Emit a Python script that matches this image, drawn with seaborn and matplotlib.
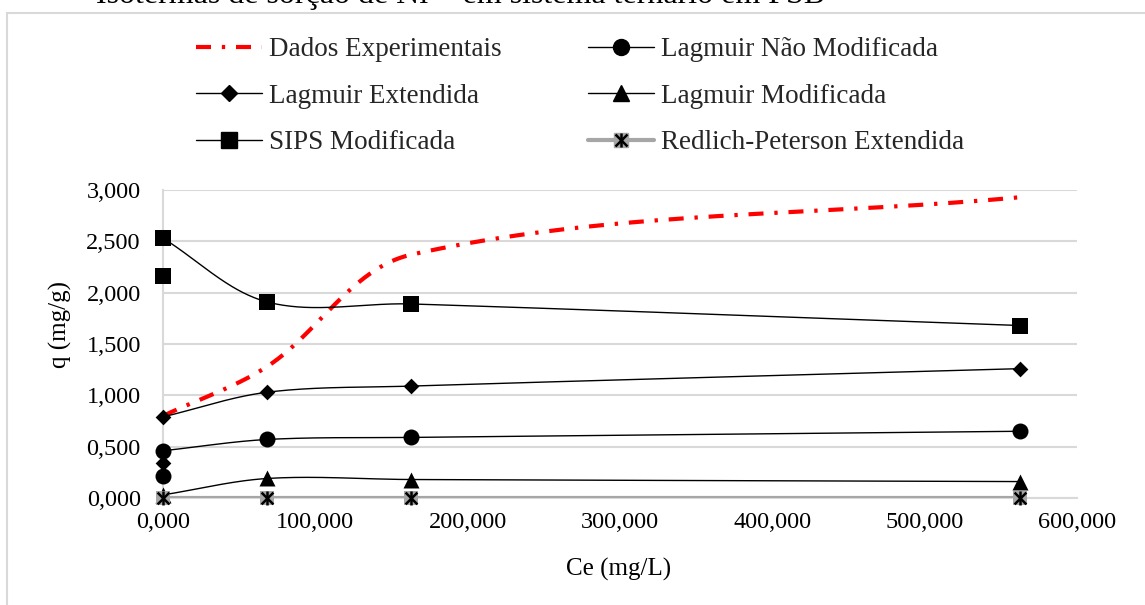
import numpy as np
import pandas as pd
import matplotlib
matplotlib.use("Agg")
import matplotlib.pyplot as plt
import seaborn as sns
from matplotlib.lines import Line2D
from matplotlib.legend_handler import HandlerTuple
from matplotlib.patches import Rectangle
from matplotlib.ticker import FuncFormatter, MultipleLocator

# ---- data -------------------------------------------------------------
ce = [0.0, 68.3, 162.9, 562.8]                 # Ce (mg/L)
q_exp = [0.80, 1.28, 2.37, 2.93]               # Dados Experimentais
q_lnm = [0.46, 0.57, 0.59, 0.65]               # Lagmuir Não Modificada
q_le = [0.79, 1.03, 1.09, 1.26]                # Lagmuir Extendida
q_lm = [0.03, 0.19, 0.18, 0.16]                # Lagmuir Modificada
q_sips = [2.53, 1.91, 1.89, 1.68]              # SIPS Modificada
q_rp = [0.0, 0.0, 0.0, 0.0]                    # Redlich-Peterson Extendida
# isolated points at Ce = 0 (not joined to the curves)
lnm_extra = 0.21
le_extra = 0.34
sips_extra = 2.16

labels = ["Dados Experimentais", "Lagmuir Não Modificada", "Lagmuir Extendida",
          "Lagmuir Modificada", "SIPS Modificada", "Redlich-Peterson Extendida"]
title = "Isotermas de sorção de Ni²⁺ em sistema ternário em FSB"
x_ticks = [0, 100, 200, 300, 400, 500, 600]
y_ticks = [0.0, 0.5, 1.0, 1.5, 2.0, 2.5, 3.0]

# ---- style ------------------------------------------------------------
sns.set_theme(style="white")
plt.rcParams["font.family"] = ["Liberation Serif", "DejaVu Serif"]

W_PX, H_PX = 1145, 605
fig = plt.figure(figsize=(W_PX / 100, H_PX / 100), dpi=100)
AX_L, AX_R, AX_T, AX_B = 163, 1077, 190, 498
ax = fig.add_axes([AX_L / W_PX, 1 - AX_B / H_PX,
                   (AX_R - AX_L) / W_PX, (AX_B - AX_T) / H_PX])
XMAX, YMAX = x_ticks[-1], y_ticks[-1]
AW, AH = AX_R - AX_L, AX_B - AX_T


def smooth(x, y, n=80):
    """Smoothed line through the points: cubic Bezier segments whose
    tangents follow the neighbouring points, scaled by chord length."""
    P = np.column_stack([np.asarray(x, float) / XMAX * AW,
                         np.asarray(y, float) / YMAX * AH])
    k = len(P)
    tang = []
    for i in range(k):
        d = P[min(i + 1, k - 1)] - P[max(i - 1, 0)]
        tang.append(d / np.linalg.norm(d))
    parts = []
    t = np.linspace(0, 1, n)[:, None]
    for i in range(k - 1):
        p1, p2 = P[i], P[i + 1]
        L = np.linalg.norm(p2 - p1) / 3
        c1 = p1 + tang[i] * L
        c2 = p2 - tang[i + 1] * L
        seg = ((1 - t) ** 3 * p1 + 3 * (1 - t) ** 2 * t * c1
               + 3 * (1 - t) * t ** 2 * c2 + t ** 3 * p2)
        parts.append(seg if i == 0 else seg[1:])
    S = np.vstack(parts)
    return S[:, 0] / AW * XMAX, S[:, 1] / AH * YMAX


RED = "#ff0000"
GREY = "#a6a6a6"
GRID = "#d9d9d9"
red_ls = (0, (3.6, 2.6, 0.8, 2.6))
MS = 11.5       # marker size (points) for square / circle / triangle
MS_D = 8.0      # diamond


def curve(y, color, lw, z, ls="-"):
    sx, sy = smooth(ce, y)
    df = pd.DataFrame({"x": sx, "y": sy})
    sns.lineplot(data=df, x="x", y="y", sort=False, estimator=None, ax=ax,
                 color=color, linewidth=lw, linestyle=ls, zorder=z)


def points(xv, yv, marker, size, z, color="black", lw=0):
    df = pd.DataFrame({"x": xv, "y": yv})
    sns.scatterplot(data=df, x="x", y="y", ax=ax, marker=marker, s=size ** 2,
                    color=color, edgecolor=color, linewidth=lw, zorder=z,
                    clip_on=False)


# Dados Experimentais
curve(q_exp, RED, 3.0, 3, red_ls)
# Lagmuir Não Modificada
curve(q_lnm, "black", 1.0, 4)
points(ce, q_lnm, "o", MS, 5)
points([0.0], [lnm_extra], "o", MS, 5)
# Lagmuir Extendida
curve(q_le, "black", 1.0, 6)
points(ce, q_le, "D", MS_D, 7)
points([0.0], [le_extra], "D", MS_D, 7)
# Lagmuir Modificada
curve(q_lm, "black", 1.0, 8)
points(ce, q_lm, "^", MS, 9)
# SIPS Modificada
curve(q_sips, "black", 1.0, 10)
points(ce, q_sips, "s", MS, 11)
points([0.0], [sips_extra], "s", MS, 11)
# Redlich-Peterson Extendida
curve(q_rp, GREY, 3.0, 12)
points(ce, q_rp, "s", 10.5, 13, color=GREY)
points(ce, q_rp, "x", 8.5, 14, lw=1.8)
points(ce, q_rp, "|", 10.5, 14, lw=1.8)

# ---- axes -------------------------------------------------------------
ax.set_xlim(0, XMAX)
ax.set_ylim(0, YMAX)
ax.xaxis.set_major_locator(MultipleLocator(100))
ax.yaxis.set_major_locator(MultipleLocator(0.5))
fmt = FuncFormatter(lambda v, p: f"{v:.3f}".replace(".", ","))
ax.xaxis.set_major_formatter(fmt)
ax.yaxis.set_major_formatter(fmt)
ax.yaxis.grid(True, color=GRID, linewidth=1.5, zorder=0)
ax.xaxis.grid(False)
ax.set_axisbelow(True)
for side in ("top", "right"):
    ax.spines[side].set_visible(False)
for side in ("left", "bottom"):
    ax.spines[side].set_color(GRID)
    ax.spines[side].set_linewidth(1.5)
ax.tick_params(axis="both", length=0, labelsize=17.5, colors="black")
ax.tick_params(axis="y", pad=16)
ax.tick_params(axis="x", pad=10)

ax.set_xlabel("Ce (mg/L)", fontsize=18, color="black")
ax.set_ylabel("q (mg/g)", fontsize=18, color="black")
ax.xaxis.set_label_coords((619 - AX_L) / AW, (AX_B - 558) / AH)
ax.yaxis.set_label_coords((72 - AX_L) / AW, (AX_B - 325) / AH)
ax.yaxis.label.set_va("bottom")

# ---- legend -----------------------------------------------------------
h_exp = Line2D([], [], color=RED, lw=3.0, linestyle=red_ls)
h_lnm = Line2D([], [], color="black", lw=1.0, marker="o", markersize=MS)
h_le = Line2D([], [], color="black", lw=1.0, marker="D", markersize=MS_D)
h_lm = Line2D([], [], color="black", lw=1.0, marker="^", markersize=MS)
h_sips = Line2D([], [], color="black", lw=1.0, marker="s", markersize=MS)
h_rp = (Line2D([], [], color=GREY, lw=3.0, marker="s", markersize=10.5,
               markerfacecolor=GREY, markeredgecolor=GREY),
        Line2D([], [], linestyle="none", marker="x", markersize=8.5,
               color="black", markeredgewidth=1.8),
        Line2D([], [], linestyle="none", marker="|", markersize=10.5,
               color="black", markeredgewidth=1.8))

leg_kw = dict(loc="upper left", frameon=False, fontsize=19.5,
              handlelength=2.45, handletextpad=0.25, labelspacing=0.8,
              borderpad=0, borderaxespad=0,
              handler_map={tuple: HandlerTuple(ndivide=1, pad=0)})
leg1 = fig.legend([h_exp, h_le, h_sips], [labels[0], labels[2], labels[4]],
                  bbox_to_anchor=(196 / W_PX, 1 - 37 / H_PX), **leg_kw)
leg2 = fig.legend([h_lnm, h_lm, h_rp], [labels[1], labels[3], labels[5]],
                  bbox_to_anchor=(588 / W_PX, 1 - 37 / H_PX), **leg_kw)

# ---- frame and heading ------------------------------------------------
fig.patches.append(Rectangle((7 / W_PX, -0.2), 1.2, 1.2 - 13 / H_PX,
                             transform=fig.transFigure, fill=False,
                             edgecolor=GRID, linewidth=1.5, zorder=0))
fig.text(96 / W_PX, 1 - 3 / H_PX, title, fontsize=23, ha="left",
         va="baseline", color="black")

fig.savefig("out.png", dpi=100, facecolor="white")
